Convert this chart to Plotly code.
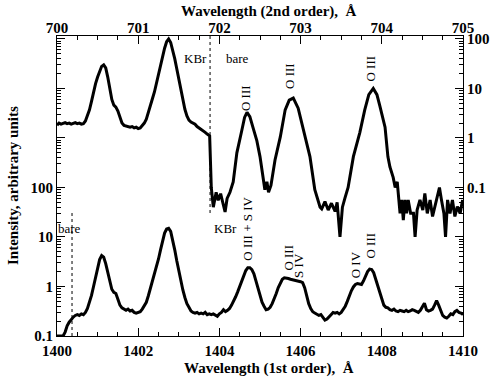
import plotly.graph_objects as go

# ---------------- data ----------------
# Lower spectrum: first order, left axis
lower_wl = [1400.00, 1400.05, 1400.10, 1400.15, 1400.20, 1400.25, 1400.30, 1400.35, 1400.40, 1400.45,
            1400.50, 1400.55, 1400.60, 1400.65, 1400.70, 1400.75, 1400.80, 1400.85, 1400.90, 1400.95,
            1401.00, 1401.05, 1401.10, 1401.15, 1401.20, 1401.25, 1401.30, 1401.35, 1401.40, 1401.45,
            1401.50, 1401.55, 1401.60, 1401.65, 1401.70, 1401.75, 1401.80, 1401.85, 1401.90, 1401.95,
            1402.00, 1402.05, 1402.10, 1402.15, 1402.20, 1402.25, 1402.30, 1402.35, 1402.40, 1402.45,
            1402.50, 1402.55, 1402.60, 1402.65, 1402.70, 1402.75, 1402.80, 1402.85, 1402.90, 1402.95,
            1403.00, 1403.05, 1403.10, 1403.15, 1403.20, 1403.25, 1403.30, 1403.35, 1403.40, 1403.45,
            1403.50, 1403.55, 1403.60, 1403.65, 1403.70, 1403.75, 1403.80, 1403.85, 1403.90, 1403.95,
            1404.00, 1404.05, 1404.10, 1404.15, 1404.20, 1404.25, 1404.30, 1404.35, 1404.40, 1404.45,
            1404.50, 1404.55, 1404.60, 1404.65, 1404.70, 1404.75, 1404.80, 1404.85, 1404.90, 1404.95,
            1405.00, 1405.05, 1405.10, 1405.15, 1405.20, 1405.25, 1405.30, 1405.35, 1405.40, 1405.45,
            1405.50, 1405.55, 1405.60, 1405.65, 1405.70, 1405.75, 1405.80, 1405.85, 1405.90, 1405.95,
            1406.00, 1406.05, 1406.10, 1406.15, 1406.20, 1406.25, 1406.30, 1406.35, 1406.40, 1406.45,
            1406.50, 1406.55, 1406.60, 1406.65, 1406.70, 1406.75, 1406.80, 1406.85, 1406.90, 1406.95,
            1407.00, 1407.05, 1407.10, 1407.15, 1407.20, 1407.25, 1407.30, 1407.35, 1407.40, 1407.45,
            1407.50, 1407.55, 1407.60, 1407.65, 1407.70, 1407.75, 1407.80, 1407.85, 1407.90, 1407.95,
            1408.00, 1408.05, 1408.10, 1408.15, 1408.20, 1408.25, 1408.30, 1408.35, 1408.40, 1408.45,
            1408.50, 1408.55, 1408.60, 1408.65, 1408.70, 1408.75, 1408.80, 1408.85, 1408.90, 1408.95,
            1409.00, 1409.05, 1409.10, 1409.15, 1409.20, 1409.25, 1409.30, 1409.35, 1409.40, 1409.45,
            1409.50, 1409.55, 1409.60, 1409.65, 1409.70, 1409.75, 1409.80, 1409.85, 1409.90, 1409.95,
            1410.00]
lower_int = [0.1, 0.1, 0.1, 0.1, 0.12, 0.16, 0.19, 0.22, 0.24, 0.26,
             0.27, 0.26, 0.28, 0.27, 0.30, 0.36, 0.47, 0.66, 1.0, 1.6,
             2.5, 3.5, 4.2, 3.9, 2.9, 1.9, 1.2, 0.88, 0.76, 0.72,
             0.55, 0.42, 0.37, 0.35, 0.33, 0.35, 0.32, 0.33, 0.30, 0.29,
             0.30, 0.31, 0.35, 0.40, 0.48, 0.65, 0.9, 1.25, 1.7, 2.4,
             3.6, 5.5, 8.5, 12, 14.5, 15, 13, 9, 5.5, 3.3,
             2.0, 1.3, 0.85, 0.6, 0.45, 0.38, 0.32, 0.30, 0.29, 0.30,
             0.28, 0.29, 0.28, 0.30, 0.27, 0.28, 0.27, 0.28, 0.26, 0.25,
             0.28, 0.30, 0.34, 0.31, 0.33, 0.36, 0.42, 0.50, 0.62, 0.78,
             1.0, 1.3, 1.7, 2.1, 2.4, 2.4, 2.2, 1.8, 1.3, 0.9,
             0.62, 0.48, 0.40, 0.34, 0.35, 0.38, 0.45, 0.55, 0.72, 0.95,
             1.2, 1.4, 1.5, 1.5, 1.45, 1.4, 1.38, 1.33, 1.3, 1.28,
             1.25, 1.2, 0.95, 0.65, 0.45, 0.36, 0.31, 0.29, 0.27, 0.26,
             0.27, 0.24, 0.21, 0.22, 0.24, 0.27, 0.30, 0.29, 0.30, 0.28,
             0.30, 0.34, 0.40, 0.50, 0.65, 0.82, 0.98, 1.1, 1.15, 1.12,
             1.1, 1.3, 1.65, 2.0, 2.25, 2.2, 1.9, 1.4, 0.98, 0.7,
             0.52, 0.42, 0.38, 0.37, 0.34, 0.33, 0.35, 0.32, 0.31, 0.33,
             0.32, 0.31, 0.33, 0.31, 0.32, 0.34, 0.33, 0.31, 0.30, 0.33,
             0.38, 0.46, 0.34, 0.32, 0.33, 0.35, 0.42, 0.52, 0.42, 0.32,
             0.26, 0.24, 0.23, 0.25, 0.28, 0.27, 0.31, 0.33, 0.30, 0.29,
             0.27]

# Upper spectrum: second order, right axis
upper_wl = [700.000, 700.025, 700.050, 700.075, 700.100, 700.125, 700.150, 700.175, 700.200, 700.225,
            700.250, 700.275, 700.300, 700.325, 700.350, 700.375, 700.400, 700.425, 700.450, 700.475,
            700.500, 700.525, 700.550, 700.575, 700.600, 700.625, 700.650, 700.675, 700.700, 700.725,
            700.750, 700.775, 700.800, 700.825, 700.850, 700.875, 700.900, 700.925, 700.950, 700.975,
            701.000, 701.025, 701.050, 701.075, 701.100, 701.125, 701.150, 701.175, 701.200, 701.225,
            701.250, 701.275, 701.300, 701.325, 701.350, 701.375, 701.400, 701.425, 701.450, 701.475,
            701.500, 701.525, 701.550, 701.575, 701.600, 701.625, 701.650, 701.675, 701.700, 701.725,
            701.750, 701.775, 701.800, 701.825, 701.850, 701.880, 701.900, 701.925, 701.960, 701.985,
            702.015, 702.040, 702.070, 702.095, 702.130, 702.170, 702.215, 702.275, 702.310, 702.340,
            702.375, 702.415, 702.460, 702.500, 702.530, 702.560, 702.585, 702.605, 702.635, 702.685,
            702.750, 702.810, 702.860, 702.910, 702.970, 703.015, 703.040, 703.115, 703.175, 703.215,
            703.240, 703.260, 703.300, 703.340, 703.380, 703.425, 703.450, 703.485, 703.515, 703.545,
            703.585, 703.650, 703.730, 703.790, 703.840, 703.895, 703.940, 703.975, 704.040, 704.075,
            704.100, 704.140, 704.165, 704.190, 704.225, 704.245, 704.265, 704.285, 704.305, 704.325,
            704.355, 704.390, 704.410, 704.435, 704.470, 704.505, 704.530, 704.560, 704.595, 704.625,
            704.655, 704.685, 704.710, 704.735, 704.765, 704.785, 704.810, 704.840, 704.870, 704.900,
            704.930, 704.965, 704.995]
upper_int = [1.8, 2.0, 1.9, 2.0, 2.05, 1.95, 2.0, 1.9, 2.0, 2.05,
             1.95, 2.0, 1.9, 1.95, 2.2, 2.8, 3.7, 5.5, 8.5, 12.5,
             17, 23, 28, 30, 26, 17, 9.5, 6.0, 4.6, 4.2,
             3.5, 2.6, 2.0, 1.8, 1.75, 1.7, 1.65, 1.7, 1.6, 1.65,
             1.55, 1.6, 1.75, 2.0, 2.4, 3.2, 4.5, 6.2, 8.5, 13,
             20, 30, 45, 65, 88, 100, 85, 60, 40, 25,
             15, 10, 6, 3.8, 2.8, 2.3, 2.1, 2.0, 1.9, 1.7,
             1.6, 1.5, 1.4, 1.3, 1.2, 1.1, 0.1, 0.04, 0.08, 0.055,
             0.075, 0.05, 0.032, 0.06, 0.08, 0.13, 0.5, 1.4, 2.6, 3.3,
             2.7, 1.6, 0.9, 0.42, 0.2, 0.09, 0.13, 0.08, 0.11, 0.36,
             1.05, 3.7, 5.8, 6.4, 4.0, 2.0, 1.4, 0.42, 0.09, 0.055,
             0.04, 0.037, 0.052, 0.035, 0.048, 0.033, 0.05, 0.01, 0.04, 0.06,
             0.1, 0.42, 1.3, 3.7, 7.5, 10, 7.5, 4.5, 1.65, 0.42,
             0.26, 0.16, 0.1, 0.13, 0.03, 0.056, 0.022, 0.056, 0.03, 0.056,
             0.03, 0.03, 0.01, 0.035, 0.056, 0.035, 0.076, 0.03, 0.056, 0.026,
             0.041, 0.065, 0.1, 0.056, 0.03, 0.01, 0.056, 0.03, 0.056, 0.026,
             0.041, 0.03, 0.056]

# axis ticks
x1_ticks = [1400, 1402, 1404, 1406, 1408, 1410]
x1_minor = [1400.5, 1401, 1401.5, 1402.5, 1403, 1403.5, 1404.5, 1405, 1405.5,
            1406.5, 1407, 1407.5, 1408.5, 1409, 1409.5]
x2_ticks = [700, 701, 702, 703, 704, 705]
x2_minor = [700.25, 700.5, 700.75, 701.25, 701.5, 701.75, 702.25, 702.5, 702.75,
            703.25, 703.5, 703.75, 704.25, 704.5, 704.75]
left_ticks = [0.1, 1, 10, 100, 1e3, 1e4, 1e5]
left_labels = ["0.1", "1", "10", "100", "", "", ""]
right_ticks = [1e-4, 1e-3, 1e-2, 0.1, 1, 10, 100]
right_labels = ["", "", "", "0.1", "1", "10", "100"]
left_minor = [m * 10.0 ** e for e in range(-1, 5) for m in range(2, 10)]
right_minor = [m * 10.0 ** e for e in range(-4, 2) for m in range(2, 10)]

# filter boundaries (first order wavelength)
kbr_edge_upper = 1403.77
kbr_edge_lower = 1400.37

FONT = "Liberation Serif"

fig = go.Figure()
fig.add_trace(go.Scatter(x=lower_wl, y=lower_int, mode="lines",
                         line=dict(color="black", width=3), xaxis="x", yaxis="y",
                         showlegend=False))
fig.add_trace(go.Scatter(x=upper_wl, y=upper_int, mode="lines",
                         line=dict(color="black", width=3), xaxis="x2", yaxis="y2",
                         showlegend=False))

tickfont = dict(family=FONT, size=15, color="black", weight="bold")
common = dict(showline=True, linecolor="black", linewidth=1, ticks="inside",
              ticklen=8, tickcolor="black", tickwidth=1, showgrid=False,
              zeroline=False, tickfont=tickfont, automargin=False)

fig.update_layout(
    width=493, height=378,
    margin=dict(l=57, r=30, t=36, b=42, pad=0),
    paper_bgcolor="white", plot_bgcolor="white",
    xaxis=dict(range=[1400, 1410], tickmode="array", tickvals=x1_ticks,
               minor=dict(tickmode="array", tickvals=x1_minor, ticks="inside",
                          ticklen=4, tickcolor="black"),
               side="bottom", anchor="y", ticklabelstandoff=1, **common),
    xaxis2=dict(range=[700, 705], tickmode="array", tickvals=x2_ticks,
                minor=dict(tickmode="array", tickvals=x2_minor, ticks="inside",
                           ticklen=4, tickcolor="black"),
                side="top", overlaying="x", anchor="y", ticklabelstandoff=-4, **common),
    yaxis=dict(type="log", range=[-1, 5.06], tickmode="array", tickvals=left_ticks,
               ticktext=left_labels,
               minor=dict(tickmode="array", tickvals=left_minor, ticks="inside",
                          ticklen=4, tickcolor="black"),
               side="left", anchor="x", **common),
    yaxis2=dict(type="log", range=[-4, 2.06], tickmode="array", tickvals=right_ticks,
                ticktext=right_labels,
                minor=dict(tickmode="array", tickvals=right_minor, ticks="inside",
                           ticklen=4, tickcolor="black"),
                side="right", overlaying="y", anchor="x", **common),
)

titlefont = dict(family=FONT, size=15, color="black", weight="bold")
labfont = dict(family=FONT, size=13, color="black")


def label(text, x, y, angle=0, xref="x", font=labfont, xshift=0, yshift=0):
    return dict(text=text, xref=xref, yref="paper", x=x, y=y, textangle=angle,
                xanchor="center", yanchor="middle", xshift=xshift, yshift=yshift,
                showarrow=False, font=font)


annotations = [
    label("Wavelength (2nd order),  Å", 0.522, 1.0, xref="paper", font=titlefont, yshift=25),
    label("Wavelength (1st order),  Å", 0.522, 0.0, xref="paper", font=titlefont, yshift=-32),
    label("Intensity, arbitrary units", 0.0, 0.5, angle=-90, xref="paper", font=titlefont, xshift=-44),
    label("KBr", 1403.40, 0.925),
    label("bare", 1404.45, 0.925),
    label("KBr", 1404.15, 0.357),
    label("bare", 1400.32, 0.357),
    label("O III", 1404.63, 0.793, angle=-90),
    label("O III", 1405.74, 0.867, angle=-90),
    label("O III", 1407.72, 0.893, angle=-90),
    label("O III + S IV", 1404.70, 0.357, angle=-90),
    label("O III", 1405.68, 0.26, angle=-90),
    label("S IV", 1405.96, 0.237, angle=-90),
    label("O IV", 1407.35, 0.237, angle=-90),
    label("O III", 1407.72, 0.303, angle=-90),
]
fig.update_layout(annotations=annotations)

fig.update_layout(shapes=[
    dict(type="line", xref="x", yref="paper", x0=kbr_edge_upper, x1=kbr_edge_upper,
         y0=0.41, y1=1.0, line=dict(color="black", width=1, dash="3px,3px")),
    dict(type="line", xref="x", yref="paper", x0=kbr_edge_lower, x1=kbr_edge_lower,
         y0=0.0, y1=0.413, line=dict(color="black", width=1, dash="3px,3px")),
])

fig.write_html("out.html", config={"displayModeBar": False},
               post_script="document.body.style.margin='0';document.body.style.padding='0';")
